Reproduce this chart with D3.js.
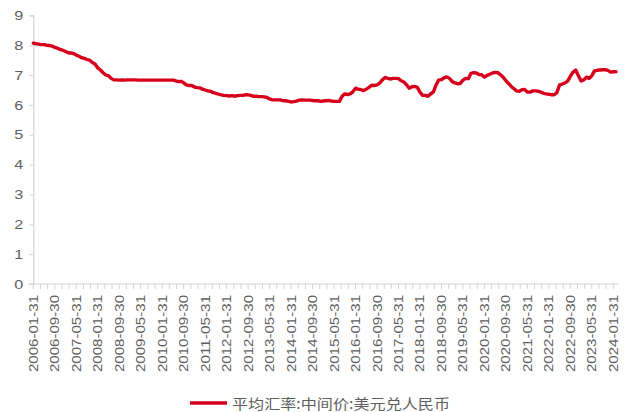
<!DOCTYPE html>
<html>
<head>
<meta charset="utf-8">
<script src="https://cdn.jsdelivr.net/npm/d3@7"></script>
<style>
  html, body { margin: 0; padding: 0; background: #fff; }
  svg { display: block; }
</style>
</head>
<body>
<svg id="chart" width="624" height="412"></svg>
<script>
// Monthly average USD/CNY central parity, Jan 2006 – Feb 2024
const startMonth = "2006-01";
const seriesName = "平均汇率:中间价:美元兑人民币";
const rate = [
  // 2006
  8.07, 8.05, 8.04, 8.02, 8.02, 8.00, 7.99, 7.97, 7.93, 7.90, 7.86, 7.83,
  // 2007
  7.79, 7.75, 7.74, 7.72, 7.67, 7.63, 7.58, 7.56, 7.52, 7.50, 7.42, 7.37,
  // 2008
  7.24, 7.17, 7.08, 7.00, 6.98, 6.89, 6.84, 6.84, 6.83, 6.84, 6.83, 6.84,
  // 2009
  6.84, 6.84, 6.84, 6.83, 6.83, 6.83, 6.83, 6.83, 6.83, 6.83, 6.83, 6.83,
  // 2010
  6.83, 6.83, 6.83, 6.83, 6.83, 6.81, 6.78, 6.79, 6.74, 6.67, 6.65, 6.65,
  // 2011
  6.60, 6.58, 6.57, 6.53, 6.50, 6.47, 6.46, 6.41, 6.39, 6.36, 6.34, 6.32,
  // 2012
  6.31, 6.30, 6.31, 6.29, 6.31, 6.32, 6.32, 6.34, 6.34, 6.32, 6.29, 6.29,
  // 2013
  6.28, 6.28, 6.27, 6.25, 6.20, 6.17, 6.17, 6.17, 6.17, 6.14, 6.14, 6.12,
  // 2014
  6.10, 6.11, 6.13, 6.16, 6.17, 6.16, 6.16, 6.16, 6.15, 6.14, 6.14, 6.12,
  // 2015
  6.13, 6.14, 6.15, 6.13, 6.12, 6.12, 6.12, 6.29, 6.37, 6.35, 6.37, 6.44,
  // 2016
  6.56, 6.53, 6.51, 6.48, 6.53, 6.59, 6.66, 6.65, 6.67, 6.73, 6.84, 6.92,
  // 2017
  6.89, 6.87, 6.89, 6.89, 6.88, 6.81, 6.77, 6.67, 6.56, 6.61, 6.62, 6.59,
  // 2018
  6.43, 6.32, 6.32, 6.29, 6.37, 6.44, 6.67, 6.84, 6.85, 6.91, 6.94, 6.89,
  // 2019
  6.78, 6.74, 6.71, 6.72, 6.83, 6.89, 6.88, 7.06, 7.08, 7.07, 7.02, 7.01,
  // 2020
  6.93, 6.99, 7.03, 7.07, 7.09, 7.08, 7.01, 6.93, 6.81, 6.72, 6.62, 6.54,
  // 2021
  6.47, 6.46, 6.51, 6.52, 6.43, 6.43, 6.47, 6.47, 6.46, 6.43, 6.39, 6.37,
  // 2022
  6.36, 6.34, 6.34, 6.42, 6.67, 6.70, 6.74, 6.80, 6.96, 7.10, 7.17, 6.98,
  // 2023
  6.80, 6.84, 6.93, 6.89, 6.98, 7.14, 7.16, 7.17, 7.18, 7.18, 7.16, 7.10,
  // 2024
  7.11, 7.11
];
const yTicks = [0, 1, 2, 3, 4, 5, 6, 7, 8, 9];
const xTickLabels = [
  "2006-01-31", "2006-09-30", "2007-05-31", "2008-01-31", "2008-09-30",
  "2009-05-31", "2010-01-31", "2010-09-30", "2011-05-31", "2012-01-31",
  "2012-09-30", "2013-05-31", "2014-01-31", "2014-09-30", "2015-05-31",
  "2016-01-31", "2016-09-30", "2017-05-31", "2018-01-31", "2018-09-30",
  "2019-05-31", "2020-01-31", "2020-09-30", "2021-05-31", "2022-01-31",
  "2022-09-30", "2023-05-31", "2024-01-31"
];

// Month-end date string for each observation
const fmt = d3.timeFormat("%Y-%m-%d");
const firstMonth = d3.timeParse("%Y-%m")(startMonth);
const dates = rate.map((_, i) => fmt(d3.timeDay.offset(d3.timeMonth.offset(firstMonth, i + 1), -1)));
const data = rate.map((v, i) => ({ date: dates[i], idx: i, value: v }));

const svg = d3.select("#chart");
const plot = { left: 33.3, right: 616, top: 15.4, bottom: 284 };
const textColor = "#5f5f5f";
const axisColor = "#d4d4d4";
const lineColor = "#d6001c";
const font = "'Liberation Sans', Arial, sans-serif";

const x = d3.scaleLinear().domain([0, rate.length - 1]).range([plot.left, plot.right]);
const y = d3.scaleLinear().domain([0, 9]).range([plot.bottom, plot.top]);

// Y axis
const yAxis = svg.append("g")
  .attr("transform", `translate(${plot.left},0)`)
  .call(d3.axisLeft(y).tickValues(yTicks).tickSize(4).tickPadding(6).tickFormat(d3.format("d")));
yAxis.select(".domain").attr("stroke", axisColor).attr("stroke-width", 1.2);
yAxis.selectAll(".tick line").attr("stroke", axisColor);
yAxis.selectAll(".tick text")
  .attr("fill", textColor)
  .attr("textLength", 9)
  .attr("lengthAdjust", "spacingAndGlyphs")
  .style("font-family", font)
  .style("font-size", "13px");

// X axis: baseline, minor ticks, rotated date labels
const labelIdx = xTickLabels.map(l => dates.indexOf(l));
const step = (labelIdx[1] - labelIdx[0]) / 3;
const tickPos = d3.range(0, rate.length - 0.5, step);

const xg = svg.append("g");
xg.append("line")
  .attr("x1", plot.left - 5).attr("x2", plot.right + 3)
  .attr("y1", plot.bottom).attr("y2", plot.bottom)
  .attr("stroke", axisColor).attr("stroke-width", 1.2);
xg.selectAll("line.tk").data(tickPos).join("line")
  .attr("class", "tk")
  .attr("x1", d => x(d)).attr("x2", d => x(d))
  .attr("y1", plot.bottom).attr("y2", plot.bottom + 5)
  .attr("stroke", axisColor);
xg.selectAll("text").data(xTickLabels).join("text")
  .attr("transform", (d, i) => `translate(${x(labelIdx[i])},${plot.bottom + 11}) rotate(-90)`)
  .attr("text-anchor", "end")
  .attr("dominant-baseline", "central")
  .attr("fill", textColor)
  .attr("textLength", 77)
  .attr("lengthAdjust", "spacingAndGlyphs")
  .style("font-family", font)
  .style("font-size", "13px")
  .text(d => d);

// Series line
const line = d3.line()
  .x(d => x(d.idx))
  .y(d => y(d.value))
  .curve(d3.curveLinear);
svg.append("path")
  .datum(data)
  .attr("fill", "none")
  .attr("stroke", lineColor)
  .attr("stroke-width", 3.4)
  .attr("stroke-linejoin", "round")
  .attr("stroke-linecap", "round")
  .attr("d", line);

// Legend
const lg = svg.append("g").attr("transform", "translate(190,403)");
lg.append("line")
  .attr("x1", 0).attr("x2", 37)
  .attr("y1", 0).attr("y2", 0)
  .attr("stroke", lineColor).attr("stroke-width", 3.4);
lg.append("text")
  .attr("x", 42).attr("y", 0)
  .attr("dominant-baseline", "central")
  .attr("fill", textColor)
  .attr("textLength", 218)
  .attr("lengthAdjust", "spacingAndGlyphs")
  .style("font-family", "'Noto Sans CJK SC', sans-serif")
  .style("font-size", "14px")
  .text(seriesName);
</script>
</body>
</html>
